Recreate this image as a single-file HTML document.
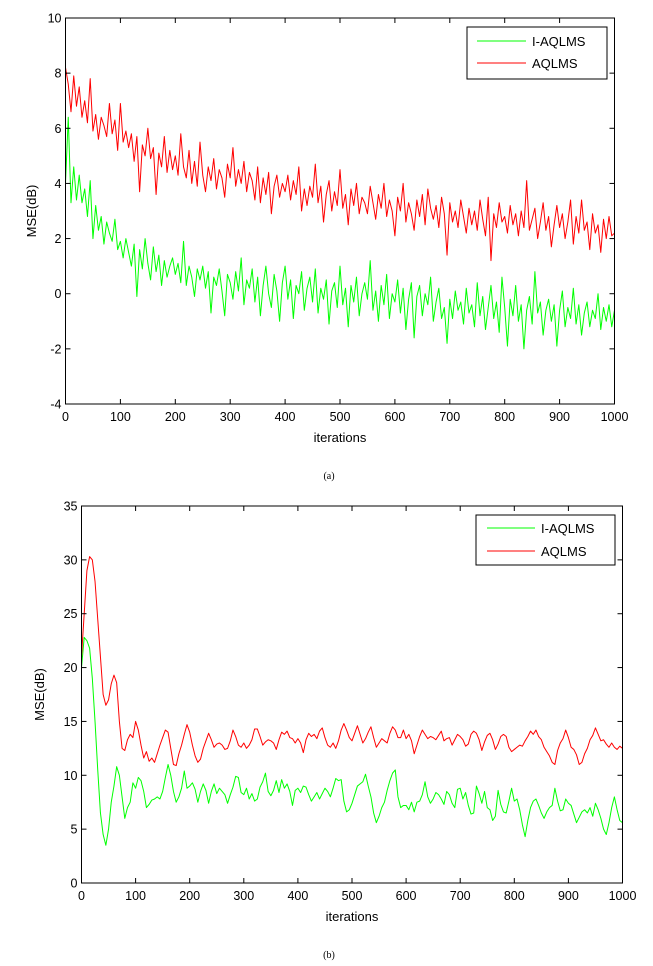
<!DOCTYPE html>
<html><head><meta charset="utf-8"><style>
body{margin:0;background:#fff;}
svg{display:block;font-family:"Liberation Sans",Arial,sans-serif;}
</style></head><body>
<svg id="fig" width="653" height="966" viewBox="0 0 653 966" xmlns="http://www.w3.org/2000/svg"></svg>
<script>
const xTicks=[0,100,200,300,400,500,600,700,800,900,1000];
const yTicksA=[-4,-2,0,2,4,6,8,10];
const yTicksB=[0,5,10,15,20,25,30,35];
const stepA=5, stepB=5;
const redA=[8.2,7.6,6.6,7.9,6.8,7.5,6.4,7.0,6.2,7.8,
5.9,6.5,5.6,6.4,6.1,5.7,6.9,5.8,6.3,5.2,
6.9,5.5,5.9,5.3,5.8,4.8,5.7,3.7,5.4,5.0,
6.0,4.9,5.3,3.6,5.1,4.6,5.7,4.4,5.2,4.5,
5.0,4.3,5.8,4.6,4.2,5.2,4.0,4.8,3.9,5.5,
4.3,3.7,4.6,4.1,4.9,3.8,4.5,4.2,3.5,4.7,
4.2,5.3,3.9,4.5,4.0,4.8,3.7,4.4,4.1,3.4,
4.6,3.3,4.2,3.6,4.4,2.9,3.9,4.3,3.5,4.0,
3.7,4.3,3.4,4.1,3.6,4.6,3.0,3.8,3.2,3.9,
3.5,4.7,3.3,3.9,2.6,3.6,4.1,3.0,3.7,3.2,
4.5,3.1,3.6,2.5,3.8,3.2,4.0,2.9,3.5,3.3,
2.9,3.9,3.3,2.7,3.6,3.1,4.0,2.8,3.4,3.0,
2.1,3.5,3.0,4.0,2.6,3.3,2.9,2.3,3.4,2.8,
3.6,2.5,3.8,3.1,2.7,3.2,2.4,3.5,2.9,1.4,
3.3,2.6,3.0,2.4,3.4,2.8,2.2,3.1,2.5,3.0,
2.3,3.4,2.7,2.1,3.5,1.2,2.9,2.4,3.3,2.6,
2.8,2.2,3.2,2.5,2.9,2.1,3.0,2.4,4.1,2.3,
2.7,3.1,2.0,2.6,3.3,2.3,2.8,1.7,2.5,3.2,
2.4,2.9,2.0,2.6,3.4,1.8,2.8,2.2,3.4,2.3,
2.6,1.6,2.9,2.2,2.5,1.5,2.7,2.0,2.8,2.1,2.2];
const greenA=[4.0,6.4,3.3,4.6,3.4,4.3,3.3,3.8,2.8,4.1,
2.0,3.2,2.3,2.8,1.8,2.6,2.2,1.9,2.7,1.6,
1.9,1.3,2.0,1.5,1.0,1.8,-0.1,1.6,0.9,2.0,
1.1,0.5,1.7,0.8,1.4,0.3,1.2,0.6,1.0,1.3,
0.7,1.1,0.4,1.9,0.3,1.0,0.6,-0.1,0.9,0.5,
1.0,0.2,0.8,-0.7,0.6,0.3,0.9,0.1,-0.8,0.7,
0.4,-0.2,0.8,0.1,1.3,-0.4,0.5,0.2,0.9,-0.3,
0.6,-0.8,0.3,1.0,0.0,-0.5,0.7,0.1,-1.0,0.4,
1.0,-0.2,0.5,-0.9,0.3,0.0,0.8,-0.6,0.2,0.6,
-0.3,0.9,-0.7,0.2,-0.2,0.5,-1.1,0.1,0.4,-0.5,
1.0,-0.4,0.2,-1.2,0.3,-0.3,0.6,-0.8,0.0,0.4,
-0.2,1.2,-0.6,0.1,-1.0,0.3,-0.4,0.7,-0.9,0.0,
-0.3,0.5,-0.7,0.2,-1.3,-0.2,0.4,-1.6,-0.1,0.3,
-0.8,0.0,-0.4,0.6,-1.0,-0.3,0.2,-0.9,-0.5,-1.8,
-0.2,-0.9,0.1,-0.6,-0.3,-1.1,0.2,-0.7,-0.4,-1.2,
0.4,-0.8,-0.1,-1.3,-0.5,0.3,-0.9,-0.3,-1.4,0.6,
-0.5,-1.9,-0.2,-0.8,0.3,-1.0,-0.4,-2.0,-0.6,-0.1,
-1.1,0.8,-0.7,-0.3,-1.5,-0.6,-0.2,-1.0,-0.4,-1.9,
-0.6,0.1,-1.2,-0.5,-0.9,0.2,-1.1,-0.4,-1.5,-0.7,
-0.3,-1.2,-0.6,-0.9,0.0,-1.3,-0.5,-1.0,-0.4,-1.2,-0.6];
const redB=[21,25,29,30.3,30,28,24.5,21,17.5,16.5,
17,18.5,19.3,18.6,15,12.5,12.3,13.3,13.8,13.5,
15,14.2,12.8,11.6,12.2,11.3,11.6,11.2,12,12.8,
13.5,14.2,14,12.5,11,10.9,12,12.8,13.8,14.7,
14,12.8,11.8,11.2,11.5,12.5,13.2,13.9,13.3,12.6,
12.9,13,12.8,12.4,12.5,13.2,14.2,13.6,12.8,12.6,
13,12.5,12.8,13.3,14.3,14.3,13.6,12.8,13.1,13.3,
13.2,13,12.4,13.3,14,13.8,14.1,13.5,13.4,13,
13.4,13,12.1,13.3,13.9,13.6,13.8,13.4,14.1,14.4,
13.5,12.8,12.6,13,12.5,13.2,14.2,14.8,14.2,13.5,
13.2,13.9,14.6,13.8,13,13.4,14,14.5,13.5,12.6,
13,13.4,13.2,13,13.9,14.5,14.2,13.5,13.5,14.2,
13.4,13.8,13.2,12,12.8,13.6,14.2,13.8,13.4,13.6,
13.5,13.3,13.7,14.1,13.2,13.4,13.5,12.8,13.3,13.8,
13.6,13.3,12.7,12.9,13.8,14.1,13.9,13.3,12.3,13.1,
13.7,13.9,13.3,12.4,12.9,13.6,13.8,13.6,12.6,12.2,
12.4,12.6,12.8,12.7,13.2,13.6,14.1,13.8,14.2,13.6,
13.3,12.6,12.2,11.8,11.2,11.0,12.3,13.0,13.4,14.2,
13.5,12.6,12.4,11.9,11.0,11.2,12.0,12.5,13.3,13.7,
14.4,13.8,13.2,13.3,12.9,12.6,13.0,12.6,12.4,12.7,12.5];
const greenB=[20,22.8,22.5,21.8,19,15,10.5,6.5,4.5,3.5,
5,7.5,9,10.8,10,8,6,7,7.5,9.3,
8.8,9.8,9.5,8.5,7,7.3,7.7,7.8,8,7.8,
8.5,9.8,11,10,8.5,7.5,8,8.8,10.4,8.8,
9,9.3,8.7,7.5,8.5,9.2,8.6,7.4,8.5,9.2,
8.3,8.8,8.5,8.2,7.4,8.2,8.9,9.9,9.8,8.4,
8.2,8.8,7.8,8.3,7.6,7.8,8.9,9.4,10.2,8.5,
8.1,8.6,9.5,8.4,9.6,8.8,9.2,8.5,7.2,8.6,
8.8,8.4,9.0,8.9,8.2,7.6,8.0,8.4,7.8,8.3,
8.8,8.5,8.0,8.8,9.7,9.5,9.6,7.6,6.6,6.8,
7.4,8.2,9.0,9.2,9.4,10.1,9.0,8.0,6.5,5.6,
6.2,7.0,7.5,8.6,9.5,10.2,10.5,8.0,7.0,7.2,
7.2,6.8,7.5,6.6,7.5,7.6,8.2,9.4,8.0,7.4,
7.8,8.4,8.2,7.8,7.3,8.5,8.2,7.4,7.0,8.7,
8.8,7.8,8.4,7.2,6.4,6.5,9.0,8.3,7.4,8.5,
7.0,6.8,5.8,6.2,8.6,7.3,6.6,6.5,7.6,8.8,
7.6,7.8,6.8,5.4,4.3,5.8,7.0,7.6,7.8,7.2,
6.5,6.0,6.6,7.0,7.2,8.8,7.6,6.7,6.8,7.8,
7.4,7.2,6.4,5.6,6.1,6.6,6.8,6.5,7.0,6.2,
7.4,6.8,6.0,5.0,4.5,5.6,7.0,8.0,6.8,5.8,5.6];
const seriesNames=["I-AQLMS","AQLMS"];

const NS="http://www.w3.org/2000/svg";
const svg=document.getElementById('fig');
function mk(tag,attrs,parent){const e=document.createElementNS(NS,tag);for(const k in attrs)e.setAttribute(k,attrs[k]);(parent||svg).appendChild(e);return e;}

function chart(p){
  const g=mk('g',{});
  
  
  const xs=v=>p.L+(v-0)/(1000-0)*(p.R-p.L);
  const ys=v=>p.B-(v-p.ymin)/(p.ymax-p.ymin)*(p.B-p.T);
  const plot=mk('rect',{x:p.L,y:p.T,width:p.R-p.L,height:p.B-p.T,fill:'#fff',stroke:'none'},g);
  
  
  function line(vals,step,color,nm){
    let d='';vals.forEach((v,i)=>{d+=(i?'L':'M')+xs(i*step).toFixed(2)+','+ys(v).toFixed(2);});
    const pth=mk('path',{d:d,fill:'none',stroke:color,'stroke-width':1,'stroke-linejoin':'round'},g);
    
    
  }
  line(p.green,p.step,'#00ff00','series-i-aqlms');
  line(p.red,p.step,'#ff0000','series-aqlms');
  const box=mk('rect',{x:p.L,y:p.T,width:p.R-p.L,height:p.B-p.T,fill:'none',stroke:'#000','stroke-width':1},g);
  
  
  xTicks.forEach(t=>{
    const x=xs(t);
    mk('line',{x1:x,y1:p.B,x2:x,y2:p.B-5,stroke:'#000'},g);
    mk('line',{x1:x,y1:p.T,x2:x,y2:p.T+5,stroke:'#000'},g);
    const tx=mk('text',{x:x,y:p.B+17,'font-size':12.5,'text-anchor':'middle',fill:'#000'},g);
    tx.textContent=t;
    
    
  });
  p.yt.forEach(t=>{
    const y=ys(t);
    mk('line',{x1:p.L,y1:y,x2:p.L+5,y2:y,stroke:'#000'},g);
    mk('line',{x1:p.R,y1:y,x2:p.R-5,y2:y,stroke:'#000'},g);
    const tx=mk('text',{x:p.L-4,y:y+4.5,'font-size':12.5,'text-anchor':'end',fill:'#000'},g);
    tx.textContent=t;
    
    
  });
  const xt=mk('text',{x:(p.L+p.R)/2,y:p.B+38,'font-size':13,'text-anchor':'middle',fill:'#000'},g);
  xt.textContent='iterations';
  
  
  const yc=(p.T+p.B)/2;
  const yt=mk('text',{x:p.ytx,y:yc,'font-size':13,'text-anchor':'middle',fill:'#000',transform:'rotate(-90 '+p.ytx+' '+yc+')'},g);
  yt.textContent='MSE(dB)';
  
  
  const lg=mk('g',{},g);
  
  
  mk('rect',{x:p.lg[0],y:p.lg[1],width:p.lg[2],height:p.lg[3],fill:'#fff',stroke:'#000'},lg);
  [['#00ff00',p.lr[0]],['#ff0000',p.lr[1]]].forEach((c,i)=>{
    mk('line',{x1:p.lx[0],y1:c[1],x2:p.lx[1],y2:c[1],stroke:c[0]},lg);
    const tx=mk('text',{x:p.lx[2],y:c[1]+5,'font-size':13,fill:'#000'},lg);
    tx.textContent=seriesNames[i];
    
    
  });
  const cap=mk('text',{x:p.cap[0],y:p.cap[1],'font-size':10,'text-anchor':'middle',fill:'#000','font-family':'"Liberation Serif",serif'},g);
  cap.textContent=p.caption;
  
  
}
chart({name:'chart-a',L:65.5,R:614.5,T:18,B:404,ymin:-4,ymax:10,yt:yTicksA,red:redA,green:greenA,step:stepA,
  ytx:36,lg:[467,27,140,52],lr:[41,63],lx:[477,526,532],cap:[329,479],caption:'(a)'});
chart({name:'chart-b',L:81.5,R:622.5,T:506,B:883,ymin:0,ymax:35,yt:yTicksB,red:redB,green:greenB,step:stepB,
  ytx:44,lg:[476,515,139,50],lr:[528,551],lx:[487,535,541],cap:[329,958],caption:'(b)'});
</script>
</body></html>
